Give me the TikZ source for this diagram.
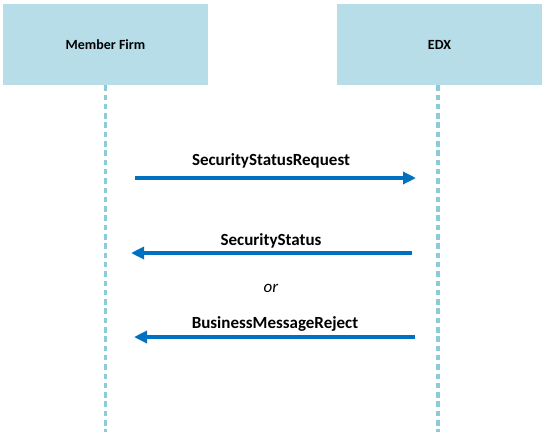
\documentclass[tikz,border=0pt]{standalone}
\usepackage{fontspec}
\setmainfont{Carlito}
\usetikzlibrary{arrows.meta}
\definecolor{boxblue}{HTML}{B7DDE8}
\definecolor{lifeblue}{HTML}{8DCBDB}
\definecolor{arrowblue}{HTML}{0070C0}
\begin{document}
\begin{tikzpicture}[x=1pt,y=-1pt,
  actor/.style={fill=boxblue, draw=none, minimum width=205pt, minimum height=81pt, inner sep=0pt, font=\fontsize{14}{16}\selectfont\bfseries},
  lifeline/.style={draw=lifeblue, line width=3.4pt, dash pattern=on 5.5pt off 3.8pt},
  msg/.style={draw=arrowblue, line width=3.2pt, -{Triangle[length=13pt,width=12pt]}},
  lbl/.style={font=\fontsize{17}{19}\selectfont\bfseries, inner sep=0pt},
]
\useasboundingbox (0,0) rectangle (546,432);
\node[actor] (mf) at (105.5,44.5) {Member Firm};
\node[actor] (edx) at (439.5,44.5) {EDX};
\coordinate (mfend) at (105.5,432);
\coordinate (edxend) at (438,432);
\draw[lifeline] (mf.south) -- (mfend);
\draw[lifeline] (edx.south) ++(-1.5,0) -- (edxend);
% message 1
\coordinate (a1s) at (135,178);
\coordinate (a1e) at (416,178);
\draw[msg] (a1s) -- (a1e);
\node[lbl] (l1) at (271,161) {SecurityStatusRequest};
% message 2
\coordinate (a2s) at (412,253);
\coordinate (a2e) at (131,253);
\draw[msg] (a2s) -- (a2e);
\node[lbl] (l2) at (271,241) {SecurityStatus};
% or
\node[font=\fontsize{17}{19}\selectfont\itshape, inner sep=0pt] (or) at (271,288) {or};
% message 3
\coordinate (a3s) at (415,337);
\coordinate (a3e) at (134,337);
\draw[msg] (a3s) -- (a3e);
\node[lbl] (l3) at (275,324) {BusinessMessageReject};
\end{tikzpicture}
\end{document}
